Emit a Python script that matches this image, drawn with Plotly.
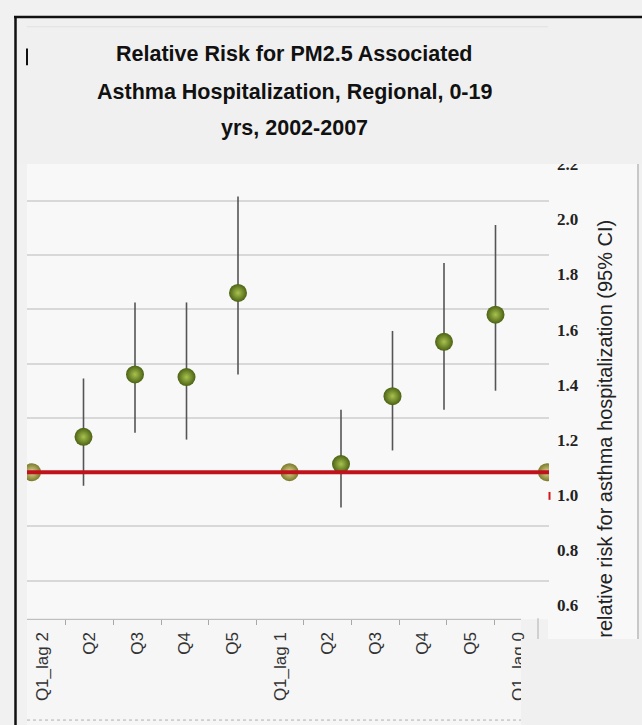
import plotly.graph_objects as go

W, H = 642, 725

# Relative risk estimates with 95% confidence limits, by quintile and lag
categories = ["Q1_lag 2", "Q2", "Q3", "Q4", "Q5",
              "Q1_lag 1", "Q2", "Q3", "Q4", "Q5", "Q1_lag 0"]
relative_risk = [1.00, 1.13, 1.36, 1.35, 1.66, 1.00, 1.03, 1.28, 1.48, 1.58, 1.00]
ci_lower = [1.00, 0.95, 1.145, 1.12, 1.36, 1.00, 0.87, 1.08, 1.23, 1.30, 1.00]
ci_upper = [1.00, 1.345, 1.625, 1.625, 2.015, 1.00, 1.23, 1.52, 1.77, 1.91, 1.00]
reference_rr = 1.0
rr_ticks = [0.6, 0.8, 1.0, 1.2, 1.4, 1.6, 1.8, 2.0, 2.2]

title_lines = ["Relative Risk for PM2.5 Associated",
               "Asthma Hospitalization, Regional, 0-19",
               "yrs, 2002-2007"]
axis_title = "relative risk for asthma hospitalization (95% CI)"


def px(x):
    return x / W


def py(y):
    return 1 - y / H


idx = list(range(len(categories)))
is_base = [lo == hi for lo, hi in zip(ci_lower, ci_upper)]
est = [i for i in idx if not is_base[i]]
base = [i for i in idx if is_base[i]]

fig = go.Figure()

# estimated quintiles: sphere markers with CI whiskers
fig.add_trace(go.Scatter(
    x=est,
    y=[relative_risk[i] for i in est],
    mode="markers",
    error_y=dict(
        type="data", symmetric=False,
        array=[ci_upper[i] - relative_risk[i] for i in est],
        arrayminus=[relative_risk[i] - ci_lower[i] for i in est],
        color="#555555", thickness=1.6, width=0,
    ),
    marker=dict(size=18, color="#4b6214",
                gradient=dict(type="radial", color="#a9c24e"),
                line=dict(width=0)),
    cliponaxis=True, showlegend=False, hoverinfo="skip",
))

# reference quintiles (RR fixed at 1)
fig.add_trace(go.Scatter(
    x=base,
    y=[relative_risk[i] for i in base],
    mode="markers",
    marker=dict(size=18, color="#7a7a28",
                gradient=dict(type="radial", color="#e2d596"),
                line=dict(width=0)),
    cliponaxis=True, showlegend=False, hoverinfo="skip",
))

# carriers for the category-label axis and the labelled RR axis
fig.add_trace(go.Scatter(x=[], y=[], xaxis="x2", yaxis="y",
                         showlegend=False, hoverinfo="skip"))
fig.add_trace(go.Scatter(x=[], y=[], xaxis="x", yaxis="y2",
                         showlegend=False, hoverinfo="skip"))

x_left, x_right = 27, 549
x0_px, x_step = 32, 51.5
plot_top, plot_bot = 157, 618
y_ref_px, y_per_unit = 469, 275

lab_x0, lab_step, lab_right = 42, 47.6, 521
lab_ref_px, lab_per_unit = 492, 279

fig.update_layout(
    width=W, height=H, autosize=False,
    margin=dict(l=0, r=0, t=0, b=0),
    paper_bgcolor="#f1f1f1",
    plot_bgcolor="#f8f8f8",
    xaxis=dict(
        domain=[px(x_left), px(x_right)],
        range=[(x_left - x0_px) / x_step, (x_right - x0_px) / x_step],
        showticklabels=False, showgrid=False, zeroline=False,
        showline=False, ticks="",
    ),
    yaxis=dict(
        domain=[py(plot_bot), py(plot_top)],
        range=[reference_rr - (plot_bot - y_ref_px) / y_per_unit,
               reference_rr + (y_ref_px - plot_top) / y_per_unit],
        tick0=0, dtick=0.2,
        showgrid=True, gridcolor="#d8d8d8", gridwidth=1.5,
        showticklabels=False, zeroline=False, showline=False, ticks="",
    ),
    xaxis2=dict(
        overlaying="x", anchor="free", position=py(plot_bot),
        range=[(x_left - lab_x0) / lab_step, (x_right - lab_x0) / lab_step],
        tickmode="array", tickvals=idx, ticktext=categories,
        tickangle=-90,
        ticks="outside", ticklen=5, tickcolor="rgba(0,0,0,0)",
        minor=dict(tickmode="array", tickvals=[i + 0.5 for i in idx[:-1]],
                   ticks="outside", ticklen=5, tickcolor="#a8a8a8",
                   tickwidth=1),
        showline=False, showgrid=False, zeroline=False,
        tickfont=dict(family="Liberation Sans", size=17, color="#333333"),
    ),
    yaxis2=dict(
        overlaying="y", side="right", anchor="free", position=px(556),
        range=[reference_rr - (plot_bot - lab_ref_px) / lab_per_unit,
               reference_rr + (lab_ref_px - plot_top) / lab_per_unit],
        tickmode="array", tickvals=rr_ticks,
        ticktext=[f"{v:.1f}" for v in rr_ticks],
        showgrid=False, zeroline=False, showline=False, ticks="",
        tickfont=dict(family="Liberation Serif", size=17, color="#222222",
                      weight="bold"),
    ),
)

shapes = [
    # right-hand label panel and category label panel
    dict(type="rect", xref="paper", yref="paper", layer="below",
         x0=px(548), x1=px(639), y0=py(638), y1=py(157),
         fillcolor="#f8f8f8", line=dict(width=0)),
    dict(type="rect", xref="paper", yref="paper", layer="below",
         x0=px(x_left), x1=px(lab_right), y0=py(725), y1=py(plot_bot),
         fillcolor="#f6f6f6", line=dict(width=0)),
    dict(type="line", xref="paper", yref="paper", layer="above",
         x0=px(x_left), x1=px(lab_right), y0=py(plot_bot), y1=py(plot_bot),
         line=dict(color="#b4b4b4", width=1)),
    dict(type="line", xref="paper", yref="paper", layer="above",
         x0=px(638), x1=px(638), y0=py(157), y1=py(638),
         line=dict(color="#b8b8b8", width=1.5)),
    dict(type="line", xref="paper", yref="paper", layer="above",
         x0=px(538), x1=px(538), y0=py(617), y1=py(638),
         line=dict(color="#c4c4c4", width=1.5)),
    dict(type="line", xref="paper", yref="paper", layer="above",
         x0=px(x_left), x1=px(lab_right), y0=py(720), y1=py(720),
         line=dict(color="#b0b0b0", width=1, dash="dot")),
    # title box and lower-right box
    dict(type="rect", xref="paper", yref="paper", layer="above",
         x0=px(16), x1=px(642), y0=py(157), y1=py(8),
         fillcolor="#f0f0f0", line=dict(width=0)),
    dict(type="rect", xref="paper", yref="paper", layer="above",
         x0=px(lab_right), x1=px(642), y0=py(725), y1=py(638),
         fillcolor="#f0f0f0", line=dict(width=0)),
    dict(type="line", xref="paper", yref="paper", layer="above",
         x0=px(27), x1=px(548), y0=py(18), y1=py(18),
         line=dict(color="#e2e2e2", width=1)),
    dict(type="line", xref="paper", yref="paper", layer="above",
         x0=px(27), x1=px(27), y0=py(40), y1=py(57),
         line=dict(color="#111111", width=2)),
    # outer frame
    dict(type="line", xref="paper", yref="paper", layer="above",
         x0=px(15.5), x1=px(15.5), y0=py(7), y1=py(725),
         line=dict(color="#111111", width=2.5)),
    dict(type="line", xref="paper", yref="paper", layer="above",
         x0=px(14), x1=px(642), y0=py(8), y1=py(8),
         line=dict(color="#111111", width=2.5)),
    # RR = 1 reference line
    dict(type="line", xref="paper", yref="y", layer="above",
         x0=px(x_left), x1=px(x_right), y0=reference_rr, y1=reference_rr,
         line=dict(color="#c0121a", width=4)),
    dict(type="line", xref="paper", yref="paper", layer="above",
         x0=px(549.5), x1=px(549.5), y0=py(489), y1=py(497),
         line=dict(color="#d01818", width=2)),
]
fig.update_layout(shapes=shapes)

annotations = []
for line, yc in zip(title_lines, [46, 84, 121]):
    annotations.append(dict(
        text=f"<b>{line}</b>", xref="paper", yref="paper",
        x=px(294), y=py(yc), xanchor="center", yanchor="middle",
        showarrow=False,
        font=dict(family="Liberation Sans", size=21.5, color="#111111"),
    ))
annotations.append(dict(
    text=axis_title, xref="paper", yref="paper",
    x=px(605), y=py(425), xanchor="center", yanchor="middle",
    textangle=-90, showarrow=False,
    font=dict(family="Liberation Sans", size=20, color="#222222"),
))
fig.update_layout(annotations=annotations)

fig.write_html("out.html")
